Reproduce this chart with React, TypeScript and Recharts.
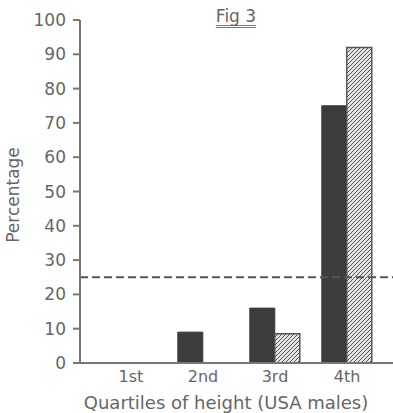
import React from "react";
import { BarChart, Bar, XAxis, YAxis, ReferenceLine } from "recharts";

const categories = ["1st", "2nd", "3rd", "4th"];
const solidValues = [0, 9, 16, 75];
const hatchedValues = [0, 0, 8.5, 92];
const yTicks = [0, 10, 20, 30, 40, 50, 60, 70, 80, 90, 100];
const referenceValue = 25;

const data = categories.map((c, i) => ({ name: c, solid: solidValues[i], hatched: hatchedValues[i] }));

const FONT = "DejaVu Sans";
const TXT = "#666";

export default function App() {
  return (
    <div style={{ position: "absolute", left: 0, top: 0, width: 393, height: 413, background: "#fff" }}>
      <BarChart
        width={393}
        height={413}
        data={data}
        margin={{ top: 20, right: 0, bottom: 0, left: 0 }}
        barCategoryGap="15%"
        barGap={0}
      >
        <defs>
          <pattern id="hatch" patternUnits="userSpaceOnUse" width="4" height="4">
            <rect width="4" height="4" fill="#e4e4e4" />
            <path d="M-1,1 l2,-2 M0,4 l4,-4 M3,5 l2,-2" stroke="#555" strokeWidth="1" />
          </pattern>
        </defs>
        <YAxis
          domain={[0, 100]}
          ticks={yTicks}
          interval={0}
          width={80}
          stroke="#777"
          strokeWidth={2}
          tickSize={7}
          tick={{ fill: TXT, fontSize: 17, fontFamily: FONT, dx: -5 }}
        />
        <XAxis
          dataKey="name"
          height={50}
          stroke="#777"
          strokeWidth={2}
          tickLine={false}
          padding={{ left: 15, right: 10 }}
          tick={{ fill: TXT, fontSize: 16, fontFamily: FONT, dy: 0 }}
        />
        <ReferenceLine y={referenceValue} stroke="#555" strokeWidth={2} strokeDasharray="8 4" />
        <Bar dataKey="solid" fill="#3c3c3c" stroke="#3c3c3c" isAnimationActive={false} />
        <Bar dataKey="hatched" fill="url(#hatch)" stroke="#555" strokeWidth={1.5} isAnimationActive={false} />
      </BarChart>
      <div
        style={{
          position: "absolute",
          left: 236,
          top: 7,
          transform: "translateX(-50%)",
          fontFamily: FONT,
          fontSize: 17,
          color: TXT,
          borderBottom: "3px double #777",
          lineHeight: "18px",
        }}
      >
        Fig 3
      </div>
      <div
        style={{
          position: "absolute",
          left: 13,
          top: 195,
          transform: "translate(-50%, -50%) rotate(-90deg)",
          fontFamily: FONT,
          fontSize: 17,
          color: TXT,
          whiteSpace: "nowrap",
        }}
      >
        Percentage
      </div>
      <div
        style={{
          position: "absolute",
          left: 226,
          top: 402,
          transform: "translate(-50%, -50%)",
          fontFamily: FONT,
          fontSize: 18,
          color: TXT,
          whiteSpace: "nowrap",
        }}
      >
        Quartiles of height (USA males)
      </div>
    </div>
  );
}
